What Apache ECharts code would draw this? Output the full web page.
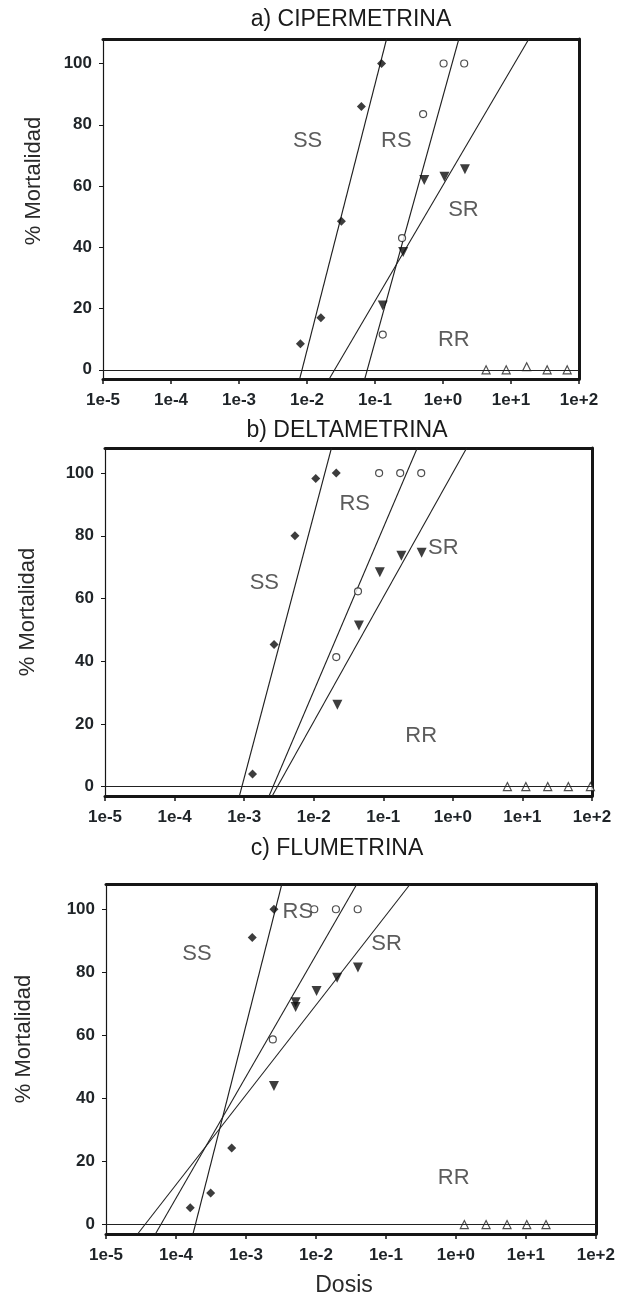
<!DOCTYPE html>
<html>
<head>
<meta charset="utf-8">
<script src="https://cdn.jsdelivr.net/npm/echarts@6/dist/echarts.min.js"></script>
<style>
html,body{margin:0;padding:0;background:#fff;}
#chart{width:618px;height:1299px;}
</style>
</head>
<body>
<div id="chart"></div>
<script>
// ---- tick labels ----
const X_TICKS = ['1e-5','1e-4','1e-3','1e-2','1e-1','1e+0','1e+1','1e+2'];
const Y_TICKS = [0, 20, 40, 60, 80, 100];
const FIT_Y = [-3, 108];

// ---- panel titles / group names ----
const TITLES = ['a) CIPERMETRINA', 'b) DELTAMETRINA', 'c) FLUMETRINA'];
const GROUPS = ['SS', 'RS', 'SR', 'RR'];

// ---- a) CIPERMETRINA ----
const A_SS_X = [0.008, 0.016, 0.032, 0.063, 0.125];
const A_SS_Y = [8.5, 17, 48.5, 86, 100];
const A_RS_X = [0.13, 0.25, 0.51, 1.02, 2.05];
const A_RS_Y = [11.5, 43, 83.5, 100, 100];
const A_SR_X = [0.13, 0.26, 0.53, 1.05, 2.1];
const A_SR_Y = [21, 38.5, 62, 63, 65.5];
const A_RR_X = [4.3, 8.5, 17, 34, 67];
const A_RR_Y = [0, 0, 1, 0, 0];
const A_FIT_SS_X = [0.0078, 0.148];
const A_FIT_RS_X = [0.0706, 1.71];
const A_FIT_SR_X = [0.0212, 18.3];
const A_LABEL_X = [0.0102, 0.206, 2.0, 1.44];
const A_LABEL_Y = [74.7, 74.7, 52.3, 9.8];

// ---- b) DELTAMETRINA ----
const B_SS_X = [0.00132, 0.00269, 0.00537, 0.0107, 0.0211];
const B_SS_Y = [4, 45.3, 80, 98.3, 100];
const B_RS_X = [0.0211, 0.0433, 0.0871, 0.175, 0.351];
const B_RS_Y = [41.3, 62.3, 100, 100, 100];
const B_SR_X = [0.0219, 0.0447, 0.0891, 0.182, 0.356];
const B_SR_Y = [26.1, 51.4, 68.4, 73.6, 74.6];
const B_RR_X = [6.08, 11.2, 23.1, 45.7, 94.8];
const B_RR_Y = [0, 0, 0, 0, 0];
const B_FIT_SS_X = [0.000855, 0.018];
const B_FIT_RS_X = [0.00228, 0.308];
const B_FIT_SR_X = [0.00253, 1.58];
const B_LABEL_X = [0.00195, 0.0389, 0.73, 0.351];
const B_LABEL_Y = [65, 90, 76, 16];

// ---- c) FLUMETRINA ----
const C_SS_X = [0.00016, 0.000313, 0.000625, 0.00123, 0.00251];
const C_SS_Y = [5.3, 10, 24.3, 91, 100];
const C_RS_X = [0.00242, 0.00946, 0.0193, 0.0395];
const C_RS_Y = [58.7, 100, 100, 100];
const C_SR_X = [0.00251, 0.00513, 0.00513, 0.0102, 0.0201, 0.0398];
const C_SR_Y = [43.9, 70.5, 69, 74.1, 78.3, 81.5];
const C_RR_X = [1.32, 2.7, 5.38, 10.3, 19.4];
const C_RR_Y = [0, 0, 0, 0, 0];
const C_FIT_SS_X = [0.000175, 0.00326];
const C_FIT_RS_X = [0.0000508, 0.0385];
const C_FIT_SR_X = [0.0000283, 0.223];
const C_LABEL_X = [0.0002, 0.0055, 0.102, 0.93];
const C_LABEL_Y = [85.7, 99, 89, 14.8];

const panels = [
  {ss:[A_SS_X,A_SS_Y], rs:[A_RS_X,A_RS_Y], sr:[A_SR_X,A_SR_Y], rr:[A_RR_X,A_RR_Y],
   fits:[A_FIT_SS_X,A_FIT_RS_X,A_FIT_SR_X], lab:[A_LABEL_X,A_LABEL_Y]},
  {ss:[B_SS_X,B_SS_Y], rs:[B_RS_X,B_RS_Y], sr:[B_SR_X,B_SR_Y], rr:[B_RR_X,B_RR_Y],
   fits:[B_FIT_SS_X,B_FIT_RS_X,B_FIT_SR_X], lab:[B_LABEL_X,B_LABEL_Y]},
  {ss:[C_SS_X,C_SS_Y], rs:[C_RS_X,C_RS_Y], sr:[C_SR_X,C_SR_Y], rr:[C_RR_X,C_RR_Y],
   fits:[C_FIT_SS_X,C_FIT_RS_X,C_FIT_SR_X], lab:[C_LABEL_X,C_LABEL_Y]}
];

// ---- layout (pixels) ----
const GRIDS = [
  {left:103, top:39,  width:476, height:340},
  {left:105, top:448, width:487, height:348},
  {left:106, top:884, width:491, height:350}
];
const TITLE_POS = [[351, 20], [347, 431], [337, 849]];
const YNAME_POS = [[34, 181], [28, 612], [24, 1039]];

const FONT = '"Liberation Sans", Arial, sans-serif';
const INK = '#161616';
const pairs = (xs, ys) => xs.map((x, i) => [x, ys[i]]);

const xAxes = [], yAxes = [], series = [], graphics = [];

GRIDS.forEach((g, i) => {
  xAxes.push({
    type:'log', logBase:10, gridIndex:i, min:1e-5, max:100, splitNumber:7,
    axisLine:{show:true, onZero:false, lineStyle:{color:INK, width:3}},
    axisTick:{show:true, inside:false, length:5, lineStyle:{color:INK, width:1.5}},
    axisLabel:{show:true, margin:13, fontFamily:FONT, fontWeight:'bold', fontSize:17, color:'#1f2428',
      formatter: v => X_TICKS[Math.round(Math.log10(v)) + 5] || ''},
    splitLine:{show:false}, minorTick:{show:false}
  });
  xAxes.push({
    type:'log', logBase:10, gridIndex:i, min:1e-5, max:100, position:'top',
    axisLine:{show:true, onZero:false, lineStyle:{color:INK, width:3}},
    axisTick:{show:false}, axisLabel:{show:false}, splitLine:{show:false}
  });
  yAxes.push({
    type:'value', gridIndex:i, min:-3, max:108,
    axisLine:{show:true, onZero:false, lineStyle:{color:INK, width:1.2}},
    axisTick:{show:true, length:4, customValues:Y_TICKS, lineStyle:{color:INK, width:1}},
    axisLabel:{show:true, customValues:Y_TICKS, margin:11, fontFamily:FONT, fontWeight:'bold', fontSize:17, color:'#1f2428'},
    splitLine:{show:false}
  });
  yAxes.push({
    type:'value', gridIndex:i, min:-3, max:108, position:'right',
    axisLine:{show:true, onZero:false, lineStyle:{color:INK, width:3}},
    axisTick:{show:false}, axisLabel:{show:false}, splitLine:{show:false}
  });

  const p = panels[i];
  const xi = i * 2, yi = i * 2;
  // fitted lines
  p.fits.forEach(fx => {
    series.push({type:'line', xAxisIndex:xi, yAxisIndex:yi, data:pairs(fx, FIT_Y),
      showSymbol:false, symbol:'none', silent:true, clip:true,
      lineStyle:{color:'#202020', width:1.1}, z:2});
  });
  // SS filled diamonds
  series.push({type:'scatter', xAxisIndex:xi, yAxisIndex:yi, data:pairs(p.ss[0], p.ss[1]),
    symbol:'diamond', symbolSize:9, itemStyle:{color:'#0d0d0d'}, z:3});
  // RS open circles
  series.push({type:'scatter', xAxisIndex:xi, yAxisIndex:yi, data:pairs(p.rs[0], p.rs[1]),
    symbol:'circle', symbolSize:7, itemStyle:{color:'#fff', borderColor:'#222', borderWidth:1.2}, z:3});
  // SR filled down-triangles
  series.push({type:'scatter', xAxisIndex:xi, yAxisIndex:yi, data:pairs(p.sr[0], p.sr[1]),
    symbol:'triangle', symbolRotate:180, symbolSize:10, itemStyle:{color:'#0d0d0d'}, z:3});
  // RR open up-triangles + zero reference line
  series.push({type:'scatter', xAxisIndex:xi, yAxisIndex:yi, data:pairs(p.rr[0], p.rr[1]),
    symbol:'triangle', symbolSize:8, itemStyle:{color:'#fff', borderColor:'#222', borderWidth:1.2}, z:3,
    markLine:{silent:true, symbol:['none','none'], label:{show:false},
      lineStyle:{color:'#222', width:1.1, type:'solid'}, data:[{yAxis:0}]}});
  // group labels
  series.push({type:'scatter', xAxisIndex:xi, yAxisIndex:yi, symbolSize:0, silent:true, z:4,
    data:p.lab[0].map((x, k) => ({name:GROUPS[k], value:[x, p.lab[1][k]]})),
    label:{show:true, position:'inside', formatter:'{b}', fontFamily:FONT, fontSize:22, color:'#333333'}});

  graphics.push({type:'text', x:TITLE_POS[i][0], y:TITLE_POS[i][1],
    style:{text:TITLES[i], font:'23px ' + FONT, fill:'#1a1a1a', textAlign:'center', textVerticalAlign:'middle'}});
  graphics.push({type:'text', x:YNAME_POS[i][0], y:YNAME_POS[i][1], rotation:Math.PI / 2,
    style:{text:'% Mortalidad', font:'22px ' + FONT, fill:'#2a2a2a', textAlign:'center', textVerticalAlign:'middle'}});
});
graphics.push({type:'text', x:344, y:1286,
  style:{text:'Dosis', font:'23px ' + FONT, fill:'#2a2a2a', textAlign:'center', textVerticalAlign:'middle'}});

const chart = echarts.init(document.getElementById('chart'), null, {renderer:'canvas'});
chart.setOption({
  animation:false,
  backgroundColor:'#ffffff',
  grid:GRIDS.map(g => Object.assign({containLabel:false}, g)),
  xAxis:xAxes,
  yAxis:yAxes,
  series:series,
  graphic:graphics
});
</script>
</body>
</html>
